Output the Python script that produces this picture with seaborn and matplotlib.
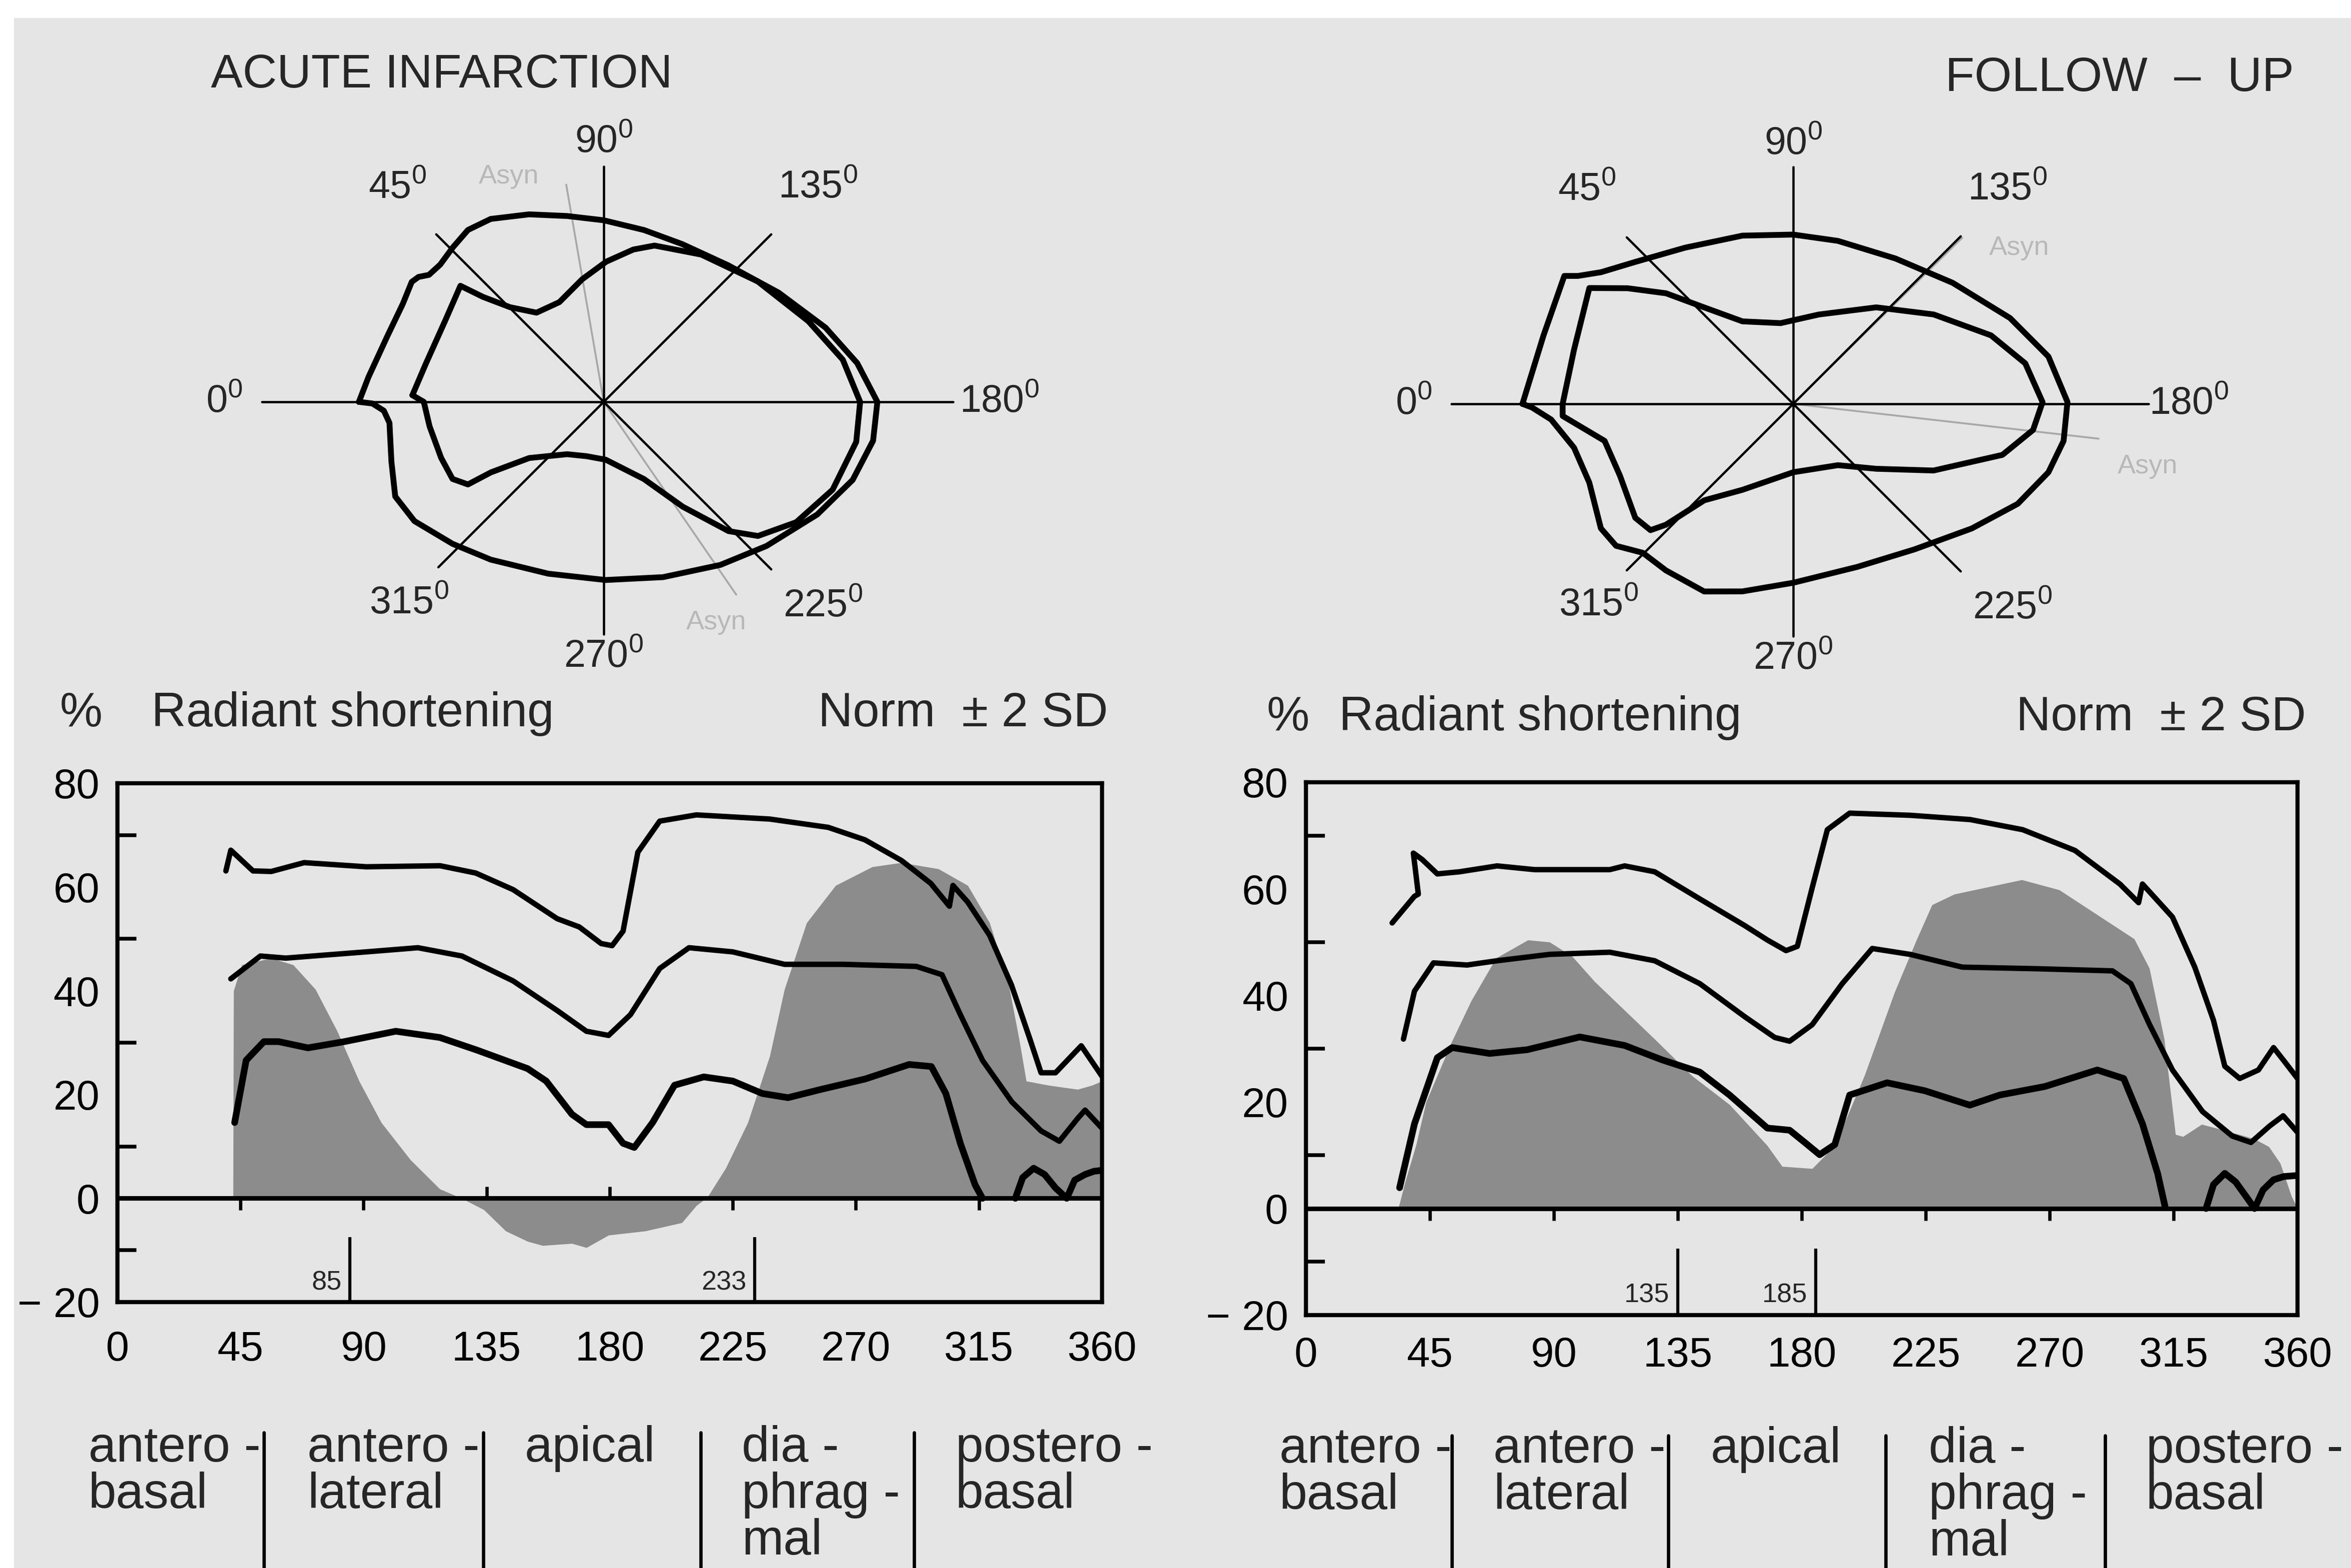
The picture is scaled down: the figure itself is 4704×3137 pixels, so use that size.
import numpy as np
import pandas as pd
import matplotlib
matplotlib.use("Agg")
import matplotlib.pyplot as plt
from matplotlib.lines import Line2D
from matplotlib.patches import Rectangle
import seaborn as sns

# ======================= DATA =======================
# ---- line charts: radiant shortening (%) vs angle (deg) ----
acute_upper_deg = [39.7, 41.5, 49.6, 56.3, 68.3, 91, 118, 131, 144.7, 160.8, 168.9, 176.9, 180.9, 184.9, 190.3,
                   198.3, 211.7, 238.5, 259.9, 273.3, 286.7, 297.4, 304.2, 305.5, 310.9, 318.9, 326.9, 333.7,
                   337.7, 343, 352.4, 360]
acute_upper_val = [63.1, 67.1, 63.1, 63.0, 64.7, 63.9, 64.1, 62.7, 59.5, 53.9, 52.3, 49.1, 48.7, 51.5, 66.7,
                   72.7, 73.9, 73.1, 71.5, 69.1, 65.1, 60.7, 56.3, 60.3, 57.1, 50.7, 41.1, 30.6,
                   24.2, 24.2, 29.4, 23.5]
acute_mean_deg = [41.5, 52.3, 61.6, 91, 109.9, 126, 144.7, 160.8, 171.5, 179.6, 187.6, 198.3, 209, 225, 243.9,
                  265.3, 292.1, 301.5, 308.2, 316.3, 327, 337.7, 344.4, 351.1, 353.8, 360]
acute_mean_val = [42.3, 46.7, 46.3, 47.5, 48.3, 46.7, 41.9, 36.2, 32.2, 31.4, 35.4, 44.3, 48.3, 47.5, 45.1,
                  45.1, 44.7, 43.1, 35.4, 26.6, 18.6, 13.0, 11.0, 15.4, 17.0, 13.5]
acute_lower_deg = [42.9, 47.1, 53.6, 59, 69.7, 83, 101.8, 117.9, 131.3, 150, 156.8, 166.2, 171.5, 179.6, 184.9,
                   189, 195.7, 203.7, 214.4, 225, 235.8, 245.2, 257.3, 273.4, 289.5, 297.6, 302.9, 308.2,
                   313.6, 316.3]
acute_lower_val = [14.6, 26.6, 30.2, 30.2, 29.0, 30.2, 32.2, 31.0, 28.6, 25.0, 22.6, 16.2, 14.2, 14.2, 10.6,
                   9.8, 14.6, 21.8, 23.4, 22.6, 20.2, 19.4, 21.0, 23.0, 25.8, 25.4, 20.2, 10.6,
                   2.6, 0.0]
acute_lower_tail_deg = [328.3, 331, 335, 339, 343, 347.1, 350, 353.8, 357, 360]
acute_lower_tail_val = [0.0, 4.0, 5.8, 4.6, 2.0, 0.0, 3.5, 4.6, 5.2, 5.4]
acute_patient_deg = [42.3, 42.5, 45.5, 56.3, 64.3, 72.4, 80.4, 88.4, 96.5, 107.2, 117.9, 125.9, 134, 142, 150,
                     155.5, 166.2, 171.5, 179.6, 193, 206.4, 211.7, 215.7, 222.4, 230.5, 238.5, 243.9, 252,
                     262.6, 276, 286.7, 300.2, 310.9, 318.9, 325.6, 329.7, 332.3, 340.3, 351.1, 356.4, 360]
acute_patient_val = [0.0, 40.0, 45.0, 46.3, 45.0, 40.3, 32.2, 22.6, 14.6, 7.4, 1.8, 0.0, -2.2, -6.3, -8.3,
                     -9.1, -8.7, -9.5, -7.1, -6.3, -4.7, -1.4, 0.2, 5.8, 14.6, 27.4, 40.3, 53.1,
                     60.3, 63.9, 64.7, 63.5, 60.3, 53.1, 41.9, 30.6, 22.6, 21.8, 21.0, 21.8, 22.6]
acute_markers = [85, 233]

follow_upper_deg = [31.3, 36, 39.4, 40.8, 39, 42.2, 47.7, 55.8, 69.4, 83, 110.3, 115.7, 126.6, 143, 159.3,
                    167.5, 174.3, 178.4, 183.8, 189.3, 197.4, 219.3, 241.1, 260.2, 279.2, 295.5, 302.3,
                    303.7, 314.6, 322.7, 329.5, 333.6, 339, 345.8, 351.3, 355.4, 360]
follow_upper_val = [53.6, 56.5, 58.6, 59.0, 66.7, 65.5, 62.8, 63.2, 64.3, 63.6, 63.6, 64.3, 63.2, 58.1, 53.1,
                    50.4, 48.4, 49.2, 60.2, 71.1, 74.2, 73.8, 73.0, 71.1, 67.2, 60.9, 57.4,
                    60.9, 54.7, 45.3, 35.3, 26.7, 24.4, 26.0, 30.2, 27.5, 24.4]
follow_mean_deg = [35.4, 39.4, 46.3, 58.5, 69.4, 88.5, 110.3, 126.6, 143, 159.3, 170.2, 175.6, 183.8, 194.7,
                   205.6, 219.3, 238.3, 265.5, 292.8, 299.5, 306.3, 314.6, 325.5, 336.3, 343.1, 349.9, 354.8, 360]
follow_mean_val = [31.8, 40.8, 46.1, 45.7, 46.5, 47.7, 48.1, 46.5, 42.2, 36.0, 32.1, 31.4, 34.5, 42.2,
                   48.8, 47.7, 45.3, 45.0, 44.6, 42.2, 34.5, 26.0, 18.2, 13.6, 12.4, 15.5, 17.4, 14.3]
follow_lower_deg = [34, 39.4, 47.7, 53.1, 66.7, 80.3, 99.4, 115.7, 129.3, 143, 153.8, 167.5, 175.6, 181.1,
                    186.5, 192, 197.4, 211, 224.7, 241, 251.9, 268.3, 287.3, 296.9, 303.7, 309.2, 311.9]
follow_lower_val = [3.9, 15.9, 28.3, 30.2, 29.1, 29.8, 32.2, 30.6, 27.9, 25.6, 21.3, 15.1, 14.7, 12.4,
                    10.1, 12.0, 21.3, 23.6, 22.1, 19.4, 21.3, 22.9, 26.0, 24.4, 15.9, 6.6, 0.4]
follow_lower_tail_deg = [326.8, 329.5, 333.6, 337.5, 341, 344.4, 347.5, 351.3, 355, 360]
follow_lower_tail_val = [0.0, 4.5, 6.6, 5.0, 2.5, 0.0, 3.5, 5.4, 6.0, 6.2]
follow_patient_deg = [33.5, 36, 40, 43.6, 53, 60, 69, 80.6, 88.5, 96.7, 104.8, 115.7, 126.6, 140.2, 153.8,
                      167.5, 172.9, 183.8, 192, 202.8, 213.7, 221.8, 227.3, 235.4, 249, 259.9, 273.5,
                      287.1, 300.7, 306.2, 311.6, 315.7, 318.4, 325.2, 333.3, 344.2, 349.6, 353.7, 357.8, 360]
follow_patient_val = [0.0, 5.0, 12.0, 20.0, 31.4, 39.0, 47.0, 50.4, 50.0, 47.3, 42.6, 37.2, 31.8, 24.9, 19.5,
                      11.8, 7.9, 7.5, 11.8, 25.0, 40.6, 50.6, 57.0, 59.0, 60.5, 61.7, 59.8,
                      55.2, 50.6, 45.1, 31.8, 13.9, 13.5, 15.8, 14.7, 13.1, 11.6, 8.5, 2.3, 0.0]
follow_markers = [135, 185]

# ---- contour diagrams: (angle deg, radius) ----
acute_outer_theta = [0, 6, 17, 26, 32, 34, 36, 40, 45.6, 51.7, 58.3, 68.3, 78.9, 90, 103.2, 116.4, 132.3, 148,
                     161.5, 171.3, 180, 188.2, 197.4, 207.8, 221.5, 234.4, 251.3, 269.4, 287.9, 305.6, 316.8,
                     327.8, 335.6, 344.3, 354.4, 357.7, 359.6, 360]
acute_outer_r = [163.3, 157.8, 150.8, 149.1, 151.0, 149.0, 144.1, 142.4, 144.0, 146.1, 143.4, 134.6, 126.3,
                 121.1, 117.7, 117.5, 123.2, 137.5, 156.0, 171.0, 182.5, 181.5, 174.0, 161.0, 145.0, 133.7,
                 123.4, 118.8, 120.4, 129.4, 138.3, 149.2, 152.7, 147.1, 143.6, 146.8, 154.3, 163.3]
acute_inner_theta = [2, 12, 27, 39, 41, 45.3, 53, 66, 80, 91, 101, 108, 123.5, 142, 158.5, 170, 180, 189, 201,
                     212, 221, 226, 233, 242.5, 268, 287.6, 305, 323, 328, 328.7, 333, 341, 352, 360, 362]
acute_inner_r = [127.7, 121.4, 118.8, 123.0, 106.7, 88.8, 74.5, 72.8, 83.0, 93.5, 103.5, 109.6, 117.8, 130.4,
                 146.7, 161.9, 171.0, 170.5, 163.5, 151.4, 136.3, 119.8, 87.5, 58.0, 38.6, 38.0, 42.6, 62.2,
                 88.7, 106.0, 113.2, 114.7, 117.3, 120.0, 127.7]
follow_outer_theta = [0, 15.3, 29.2, 30.7, 34.4, 41.9, 55.3, 73.2, 90, 105.3, 125.1, 142.8, 158.4, 169.5,
                      179.6, 187.8, 195, 204, 214.9, 230.2, 248.6, 270, 285.2, 295.4, 307.4, 315.3, 321.3,
                      327.1, 338.9, 348.7, 356.3, 359.2, 360]
follow_outer_r = [180.6, 172.7, 174.9, 167.1, 155.4, 141.7, 126.7, 117.2, 112.9, 112.7, 118.5, 133.5, 155.5,
                  173.1, 182.9, 182.0, 176.2, 163.9, 145.2, 126.3, 116.8, 119.3, 129.6, 138.5, 139.8, 141.2,
                  151.4, 152.8, 145.8, 149.1, 161.8, 174.2, 180.6]
follow_inner_theta = [0, 13.9, 29.6, 34.9, 41, 47.3, 58.4, 81.1, 106, 130.7, 147.5, 160.9, 170.1, 179.6,
                      186.2, 193.7, 205.4, 218, 233.9, 270, 300.6, 312.7, 316.5, 318.5, 324.2, 337.5, 348.9,
                      357, 360]
follow_inner_r = [153.8, 150.6, 156.4, 134.8, 112.4, 87.5, 64.6, 54.5, 62.0, 84.9, 111.0, 139.6, 157.1,
                  166.3, 160.9, 143.6, 103.6, 70.3, 50.6, 45.6, 66.6, 87.5, 117.1, 127.1, 129.9, 125.1,
                  128.2, 154.0, 153.8]

spoke_angles = [0, 45, 90, 135, 180, 225, 270, 315]
acute_spoke_len = [228, 158, 157, 158, 233, 158, 155, 156]
follow_spoke_len = [228, 157, 158, 158, 237, 158, 155, 157]
angle_labels = ["0", "45", "90", "135", "180", "225", "270", "315"]
label_theta = [0, 46, 90, 135, 180, 223, 270, 314]
label_r = [253, 198, 173, 202, 264, 200, 170, 187]

acute_asyn_theta = [80.2, 235.5]
acute_asyn_len = [147, 156]
acute_asyn_text = [(67.2, 163), (243, 165)]
follow_asyn_theta = [135.5, 186.5]
follow_asyn_len = [158, 205]
follow_asyn_text = [(145.4, 183), (190, 240)]

segment_names = [["antero -", "basal"], ["antero -", "lateral"], ["apical"],
                 ["dia -", "phrag -", "mal"], ["postero -", "basal"]]

# ======================= STYLE =======================
BG = "#e5e5e5"
FILL = "#8c8c8c"
sns.set_theme(style="white")
plt.rcParams["font.family"] = ["Liberation Sans", "DejaVu Sans"]
plt.rcParams["mathtext.fontset"] = "custom"
plt.rcParams["mathtext.rm"] = "Liberation Sans"
plt.rcParams["mathtext.it"] = "Liberation Sans"
plt.rcParams["mathtext.bf"] = "Liberation Sans"

W, H = 4704, 3137
fig = plt.figure(figsize=(W / 300, H / 300), dpi=300)
fig.patch.set_facecolor("white")
fig.patches.append(Rectangle((28 / W, 0), 1, 1 - 36 / H, transform=fig.transFigure,
                             facecolor=BG, edgecolor="none", zorder=-10))


def px(x, y):
    return x / W, 1 - y / H


# ======================= LINE CHARTS =======================
def line_panel(rect, upper, mean, lower, lower_tail, patient, markers, zero_up, xpad):
    ax = fig.add_axes(rect)
    ax.set_facecolor("none")
    ax.fill_between(patient[0], patient[1], 0, color=FILL, lw=0, zorder=1)
    ax.axhline(0, color="black", lw=2.2, zorder=2)
    for (xd, yd), lw in [(upper, 2.6), (mean, 2.6), (lower, 3.2), (lower_tail, 3.2)]:
        df = pd.DataFrame({"deg": xd, "val": yd})
        sns.lineplot(data=df, x="deg", y="val", ax=ax, sort=False, estimator=None,
                     color="black", lw=lw, zorder=3)
    # ticks on the zero line
    for t in [45, 90, 135, 180, 225, 270, 315]:
        if t in zero_up:
            ax.vlines(t, 0, 2.3, color="black", lw=1.6, zorder=2)
        else:
            ax.vlines(t, -2.3, 0, color="black", lw=1.6, zorder=2)
    # marker lines
    for m in markers:
        ax.vlines(m, -20, -7.5, color="black", lw=1.5, zorder=2)
        ax.text(m - 3.0, -16.3, str(m), ha="right", va="center", fontsize=13)
    ax.set_xlim(0, 360)
    ax.set_ylim(-20, 80)
    ax.set_xlabel("")
    ax.set_ylabel("")
    ax.set_xticks(np.arange(0, 361, 45))
    ax.set_xticklabels([str(v) for v in range(0, 361, 45)])
    ax.set_yticks(np.arange(-20, 81, 20))
    ax.set_yticklabels(["\u2212 20", "0", "20", "40", "60", "80"])
    ax.set_yticks(np.arange(-10, 71, 20), minor=True)
    ax.tick_params(axis="x", which="major", length=0, labelsize=20, pad=xpad, colors="black")
    ax.tick_params(axis="y", which="major", length=0, labelsize=20, pad=8.5, colors="black")
    ax.tick_params(axis="y", which="minor", left=True, direction="in", length=9, width=1.8, color="black")
    for s in ax.spines.values():
        s.set_visible(True)
        s.set_color("black")
        s.set_linewidth(2.0)
    return ax


ax1 = line_panel([234.7 / W, 1 - 2605 / H, (2205 - 234.7) / W, (2605 - 1567) / H],
                 (acute_upper_deg, acute_upper_val), (acute_mean_deg, acute_mean_val),
                 (acute_lower_deg, acute_lower_val), (acute_lower_tail_deg, acute_lower_tail_val),
                 (acute_patient_deg, acute_patient_val), acute_markers, [135, 180], 13.5)
ax2 = line_panel([2613 / W, 1 - 2631 / H, (4597 - 2613) / W, (2631 - 1565) / H],
                 (follow_upper_deg, follow_upper_val), (follow_mean_deg, follow_mean_val),
                 (follow_lower_deg, follow_lower_val), (follow_lower_tail_deg, follow_lower_tail_val),
                 (follow_patient_deg, follow_patient_val), follow_markers, [], 10)


# ======================= CONTOUR DIAGRAMS =======================
def polar_panel(cx, cy, outer, inner, spoke_len, asyn_theta, asyn_len, asyn_text):
    R = 250  # radius units (1 unit = 3 px)
    size = 2 * R * 3
    ax = fig.add_axes([(cx - size / 2) / W, 1 - (cy + size / 2) / H, size / W, size / H],
                      projection="polar")
    ax.set_theta_zero_location("W")
    ax.set_theta_direction(-1)
    ax.patch.set_alpha(0)
    for a, L in zip(spoke_angles, spoke_len):
        ax.plot([np.deg2rad(a)] * 2, [0, L], color="black", lw=1.1, zorder=2)
    for a, L in zip(asyn_theta, asyn_len):
        ax.plot([np.deg2rad(a)] * 2, [0, L], color="#a8a8a8", lw=0.9, zorder=1)
    for (a, r) in asyn_text:
        ax.text(np.deg2rad(a), r, "Asyn", color="#b8b8b8", fontsize=13, ha="center", va="center")
    ax.plot(np.deg2rad(outer[0]), outer[1], color="black", lw=2.8, zorder=3,
            solid_joinstyle="round")
    ax.plot(np.deg2rad(inner[0]), inner[1], color="black", lw=2.8, zorder=3,
            solid_joinstyle="round")
    for lab, a, r in zip(angle_labels, label_theta, label_r):
        ax.text(np.deg2rad(a), r, lab + r"$^{0}$", fontsize=18.5, ha="center", va="center")
    ax.set_rlim(0, R)
    ax.set_axis_off()
    return ax


polar_panel(1208, 804, (acute_outer_theta, acute_outer_r), (acute_inner_theta, acute_inner_r),
            acute_spoke_len, acute_asyn_theta, acute_asyn_len, acute_asyn_text)
polar_panel(3588, 808, (follow_outer_theta, follow_outer_r), (follow_inner_theta, follow_inner_r),
            follow_spoke_len, follow_asyn_theta, follow_asyn_len, follow_asyn_text)

# ======================= TEXTS =======================
fig.text(*px(422, 175), "ACUTE INFARCTION", fontsize=22.8, ha="left", va="baseline")
fig.text(*px(4590, 182), "FOLLOW  \u2013  UP", fontsize=23, ha="right", va="baseline")

for xp, xr, xn, yb in [(120, 303, 2217, 1453), (2535, 2679, 4614, 1461)]:
    fig.text(*px(xp, yb), "%", fontsize=23, ha="left", va="baseline")
    fig.text(*px(xr, yb), "Radiant shortening", fontsize=23, ha="left", va="baseline")
    fig.text(*px(xn, yb), "Norm  \u00b1 2 SD", fontsize=23, ha="right", va="baseline")

seg_x_left = [177, 615, 1050, 1484, 1912]
seg_x_right = [2560, 2988, 3423, 3859, 4294]
sep_x_left = [528, 967, 1402, 1829]
sep_x_right = [2905, 3338, 3773, 4212]
for xs, seps, base0, top in [(seg_x_left, sep_x_left, 2924, 2866), (seg_x_right, sep_x_right, 2926, 2872)]:
    for x0, lines in zip(xs, segment_names):
        for i, t in enumerate(lines):
            fig.text(*px(x0, base0 + i * 93), t, fontsize=24, ha="left", va="baseline")
    for sx in seps:
        fig.add_artist(Line2D([sx / W, sx / W], [1 - top / H, 0], transform=fig.transFigure,
                              color="black", lw=1.6))

fig.savefig("out.png", dpi=300, facecolor=fig.get_facecolor())
